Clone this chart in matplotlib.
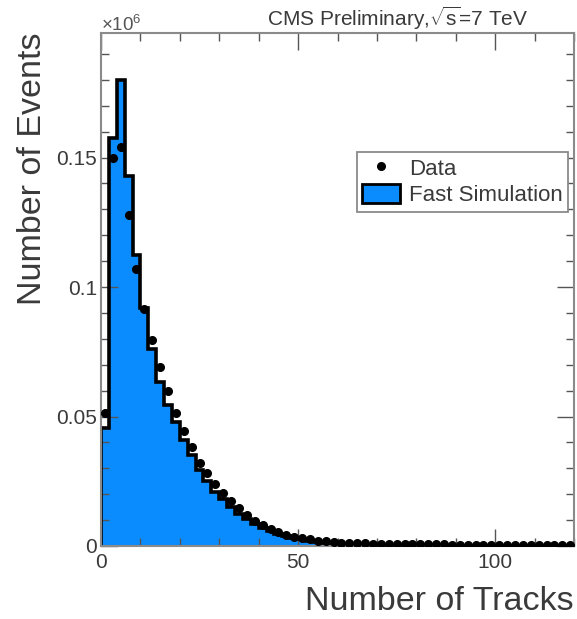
import matplotlib
matplotlib.use("Agg")
import matplotlib.pyplot as plt
from matplotlib.ticker import MultipleLocator
from matplotlib.patches import Patch
from matplotlib.lines import Line2D
import numpy as np

plt.rcParams['font.family'] = ['Liberation Sans', 'DejaVu Sans']
plt.rcParams['mathtext.fontset'] = 'custom'
plt.rcParams['mathtext.rm'] = 'Liberation Sans'
plt.rcParams['mathtext.it'] = 'Liberation Sans:italic'

# Bin edges: 0..120 in steps of 2 (number of tracks)
bin_edges = list(range(0, 122, 2))

# Data (units of 1e6 events)
data_vals = [0.0514, 0.150, 0.154, 0.128, 0.107, 0.0915, 0.0795, 0.069, 0.0597, 0.0514,
             0.0444, 0.0382, 0.0320, 0.0282, 0.0239, 0.0205, 0.0172, 0.0145, 0.0118, 0.0098,
             0.0080, 0.0066, 0.0054, 0.0044, 0.0036, 0.0030, 0.0025, 0.0021, 0.0018, 0.0015,
             0.0013, 0.0012, 0.0011, 0.0010, 0.0009, 0.0009, 0.0008, 0.0008, 0.0007, 0.0007,
             0.0007, 0.0006, 0.0006, 0.0006, 0.0005, 0.0005, 0.0005, 0.0005, 0.0004, 0.0004,
             0.0004, 0.0004, 0.0004, 0.0003, 0.0003, 0.0003, 0.0003, 0.0003, 0.0003, 0.0003]

# Fast simulation (units of 1e6 events)
sim_vals = [0.0456, 0.1575, 0.180, 0.1429, 0.1124, 0.0919, 0.0760, 0.0635, 0.0544, 0.0479,
            0.0409, 0.0351, 0.0293, 0.0250, 0.0210, 0.0180, 0.0150, 0.0125, 0.0104, 0.0086,
            0.0071, 0.0058, 0.0047, 0.0038, 0.0031, 0.0025, 0.0020, 0.0016, 0.0013, 0.0010,
            0.0008, 0.0007, 0.0006, 0.0005, 0.0004, 0.0004, 0.0003, 0.0003, 0.0002, 0.0002,
            0.0002, 0.0002, 0.0001, 0.0001, 0.0001, 0.0001, 0.0001, 0.0001, 0.0001, 0.0001,
            0.0001, 0.0001, 0.0001, 0.0001, 0.0001, 0.0001, 0.0001, 0.0001, 0.0001, 0.0001]

x_ticks = [0, 50, 100]
y_ticks = [0, 0.05, 0.1, 0.15]
y_tick_labels = ["0", "0.05", "0.1", "0.15"]

fill_color = "#0a8cff"
frame_color = "#8a8a8a"
text_color = "#3a3a3a"

fig = plt.figure(figsize=(5.77, 6.19), dpi=100)
ax = fig.add_axes([0.175, 0.118, 0.820, 0.829])

edges = np.array(bin_edges, dtype=float)
sim = np.array(sim_vals)
dat = np.array(data_vals)
centers = 0.5 * (edges[:-1] + edges[1:])

ax.stairs(sim, edges, fill=True, color=fill_color, zorder=1)
ax.stairs(sim, edges, fill=False, color="black", linewidth=2.6, zorder=2,
          baseline=None)
ax.plot([edges[0], edges[0]], [0, sim[0]], color="black", linewidth=2.6, zorder=2)
ax.plot(centers, dat, 'o', color="black", markersize=5.5, zorder=3)

ax.set_xlim(0, 120)
ax.set_ylim(0, 0.1982)

ax.set_xticks(x_ticks)
ax.set_xticklabels([str(v) for v in x_ticks])
ax.xaxis.set_minor_locator(MultipleLocator(10))
ax.set_yticks(y_ticks)
ax.set_yticklabels(y_tick_labels)
ax.yaxis.set_minor_locator(MultipleLocator(0.01))

ax.tick_params(which='both', direction='in', top=True, right=True,
               colors="#555555", labelcolor=text_color, labelsize=15)
ax.tick_params(which='major', length=12, width=1.0)
ax.tick_params(which='minor', length=6, width=1.0)
ax.tick_params(axis='x', pad=5)
ax.tick_params(axis='y', pad=3)

for sp in ax.spines.values():
    sp.set_color(frame_color)
    sp.set_linewidth(1.5)

ax.set_xlabel("Number of Tracks", fontsize=24.5, color=text_color, ha='right', x=1.0,
              labelpad=10)
ax.set_ylabel("Number of Events", fontsize=24.5, color=text_color, ha='right', y=1.0,
              labelpad=6)

fig.text(0.175, 1 - 31 / 619, r"$\times10^{6}$", fontsize=13.5, color="#555555",
         ha='left', va='baseline')
fig.text(528 / 577, 1 - 26 / 619, r"CMS Preliminary,$\sqrt{\mathrm{s}}$=7 TeV", fontsize=15,
         color=text_color, ha='right', va='baseline')

handles = [Line2D([], [], marker='o', linestyle='none', color='black', markersize=5.5),
           Patch(facecolor=fill_color, edgecolor='black', linewidth=2.0)]
leg = ax.legend(handles, ["Data", "Fast Simulation"], loc='upper right',
                bbox_to_anchor=(0.988, 0.768), fontsize=16, frameon=True,
                fancybox=False, edgecolor=frame_color, framealpha=1.0,
                borderpad=0.25, handlelength=1.7, handleheight=0.95,
                handletextpad=0.4, labelspacing=0.2, borderaxespad=0.0)
leg.get_frame().set_linewidth(1.3)
for t in leg.get_texts():
    t.set_color(text_color)

fig.savefig("out.png", dpi=100)
